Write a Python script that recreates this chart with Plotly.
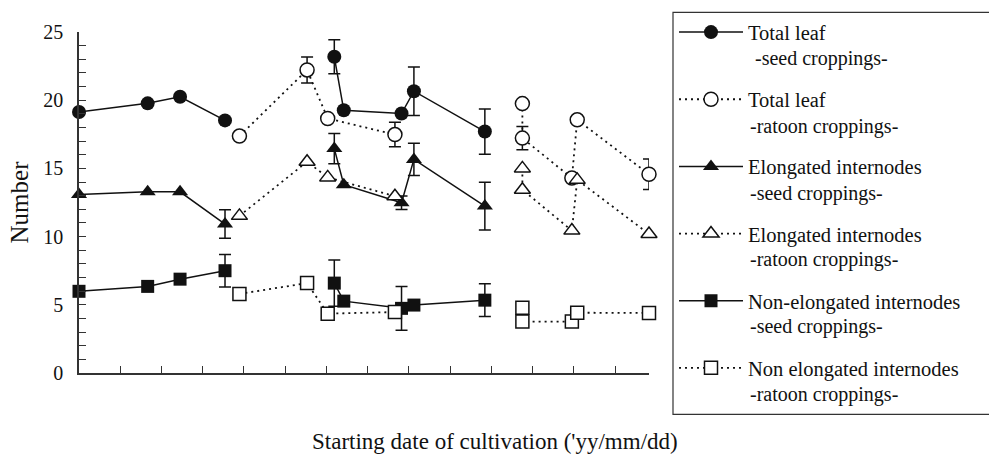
import numpy as np
import plotly.graph_objects as go

nan = np.nan

# x positions (in units of the axis tick interval; dates are not labelled)
x_seed = np.array([0.0, 1.665, 2.45, 3.54, nan, 6.19, 6.42, 7.82, 8.12, 9.84])
x_ratoon = np.array([3.89, 5.53, 6.03, 7.66, nan, 10.75, 10.75, 11.95, 12.08, 13.82])

# Total leaf
leaf_seed = np.array([19.14, 19.77, 20.25, 18.52, nan, 23.18, 19.26, 19.02, 20.66, 17.70])
leaf_seed_err = np.array([nan, nan, nan, nan, nan, 1.25, nan, nan, 1.78, 1.66])
leaf_ratoon = np.array([17.37, 22.22, 18.66, 17.48, nan, 19.75, 17.22, 14.29, 18.56, 14.57])
leaf_ratoon_err = np.array([nan, 0.95, nan, 0.90, nan, nan, 0.85, nan, nan, 1.12])

# Elongated internodes
elong_seed = np.array([13.08, 13.28, 13.28, 10.92, nan, 16.45, 13.80, 12.48, 15.66, 12.24])
elong_seed_err = np.array([nan, nan, nan, 1.05, nan, 1.10, nan, 0.50, 1.18, 1.75])
elong_ratoon = np.array([11.52, 15.49, 14.34, 12.96, nan, 15.00, 13.44, 10.44, 14.16, 10.19])
elong_ratoon_err = np.array([nan] * 10)

# Non-elongated internodes
nonel_seed = np.array([5.99, 6.35, 6.88, 7.50, nan, 6.59, 5.27, 4.74, 4.98, 5.34])
nonel_seed_err = np.array([nan, nan, nan, 1.19, nan, 1.70, nan, 1.60, nan, 1.20])
nonel_ratoon = np.array([5.80, 6.59, 4.35, 4.47, nan, 4.78, 3.77, 3.77, 4.42, 4.40])
nonel_ratoon_err = np.array([nan] * 10)

legend_first = ["Total leaf", "Total leaf", "Elongated internodes", "Elongated internodes",
                "Non-elongated internodes", "Non elongated internodes"]
legend_second = [" -seed croppings-", "-ratoon croppings-", "-seed croppings-",
                 "-ratoon croppings-", "-seed croppings-", "-ratoon croppings-"]

y_ticks = list(range(0, 26))
y_ticktext = [str(v) if v % 5 == 0 else "" for v in y_ticks]
x_ticks = list(range(1, 14))

FONT = "Liberation Serif"
W, H = 989, 463
L, R, T, B = 79, 649, 27, 373  # plot area in px


def px2x(px):
    return (px - L) / (R - L)


def px2y(py):
    return (B - py) / (B - T)


series = [
    (x_seed, leaf_seed, leaf_seed_err, "circle", "solid"),
    (x_ratoon, leaf_ratoon, leaf_ratoon_err, "circle-open", "ratoon"),
    (x_seed, elong_seed, elong_seed_err, "triangle-up", "solid"),
    (x_ratoon, elong_ratoon, elong_ratoon_err, "triangle-up-open", "ratoon"),
    (x_seed, nonel_seed, nonel_seed_err, "square", "solid"),
    (x_ratoon, nonel_ratoon, nonel_ratoon_err, "square-open", "ratoon"),
]

fig = go.Figure()
for i, (xs, ys, es, sym, style) in enumerate(series):
    is_open = sym.endswith("open")
    fig.add_trace(go.Scatter(
        x=xs, y=ys, name=legend_first[i], legendgroup=f"g{i}",
        mode="lines+markers", connectgaps=False, cliponaxis=False,
        line=dict(color="#111111", width=1.5 if style == "solid" else 1.8,
                  dash="solid" if style == "solid" else "2px,4px"),
        marker=dict(symbol=sym.replace("-open", "") if is_open else sym,
                    size=14 if "square" not in sym else 13,
                    color="white" if is_open else "#111111",
                    line=dict(color="#111111", width=1.5 if is_open else 0)),
        error_y=dict(type="data", array=es, symmetric=True, color="#111111",
                     thickness=1.5, width=6),
    ))

annotations = []
second_y = [54, 123, 191, 258, 326, 395]
for i, txt in enumerate(legend_second):
    annotations.append(dict(x=px2x(748), y=px2y(second_y[i]), xref="paper", yref="paper",
                            text=txt, showarrow=False, xanchor="left", yanchor="middle",
                            font=dict(family=FONT, size=20, color="#111111")))
annotations.append(dict(x=px2x(494.5), y=px2y(442), xref="paper", yref="paper",
                        text="Starting date of cultivation ('yy/mm/dd)", showarrow=False,
                        xanchor="center", yanchor="middle",
                        font=dict(family=FONT, size=23, color="#111111")))

fig.update_layout(
    width=W, height=H,
    margin=dict(l=L, r=W - R, t=T, b=H - B),
    paper_bgcolor="white", plot_bgcolor="white",
    font=dict(family=FONT, color="#111111"),
    showlegend=True,
    legend=dict(x=px2x(674), y=px2y(7), xanchor="left", yanchor="top",
                bgcolor="rgba(0,0,0,0)", borderwidth=0, maxheight=600,
                font=dict(family=FONT, size=20.5, color="#111111"),
                itemwidth=64, tracegroupgap=37.5, itemclick=False),
    xaxis=dict(range=[0, 13.82], showline=True, linecolor="#333333", linewidth=1.5,
               ticks="inside", ticklen=7, tickwidth=1.2, tickcolor="#333333",
               tickvals=x_ticks, showticklabels=False, showgrid=False, zeroline=False),
    yaxis=dict(range=[0, 25], showline=True, linecolor="#333333", linewidth=1.5,
               ticks="inside", ticklen=7, tickwidth=1.2, tickcolor="#333333",
               tickvals=y_ticks, ticktext=y_ticktext, showgrid=False, zeroline=False,
               ticklabelstandoff=10,
               tickfont=dict(family=FONT, size=20, color="#111111"),
               title=dict(text="Number", font=dict(family=FONT, size=25, color="#111111"),
                          standoff=8)),
    annotations=annotations,
    shapes=[dict(type="rect", xref="paper", yref="paper",
                 x0=px2x(673), x1=px2x(992), y0=px2y(415), y1=px2y(7),
                 line=dict(color="#333333", width=1.2), fillcolor="rgba(0,0,0,0)")],
)

fig.write_html("out.html")
